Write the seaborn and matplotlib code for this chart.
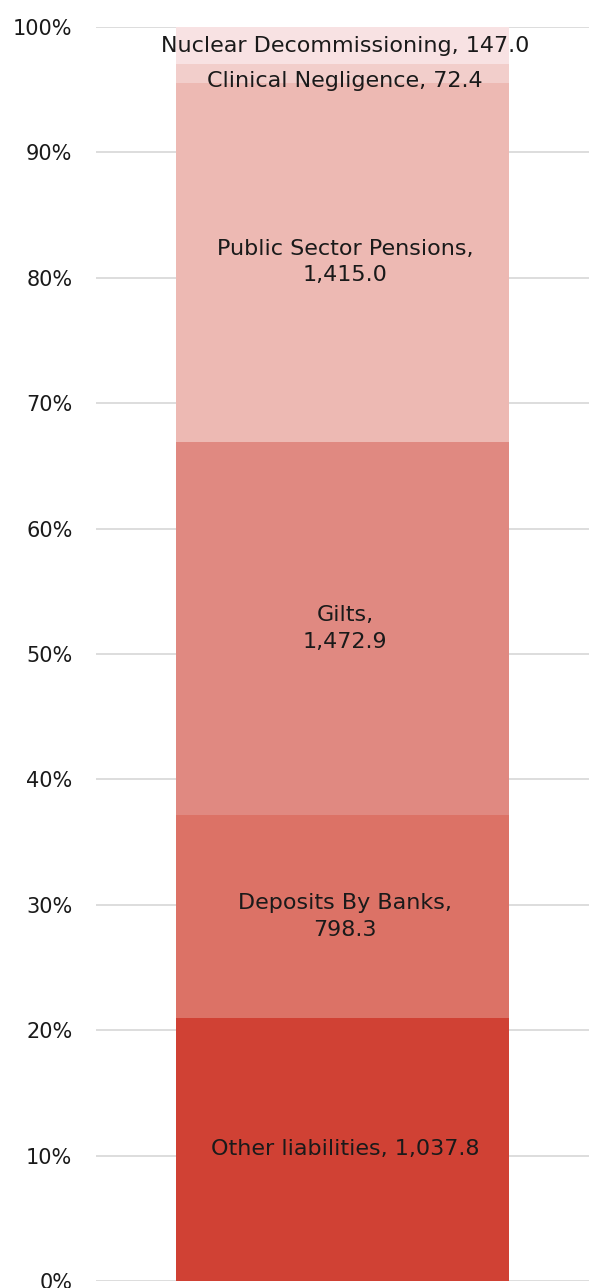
import matplotlib
matplotlib.use("Agg")
import matplotlib.pyplot as plt
import seaborn as sns
import numpy as np

# Liabilities breakdown (bottom to top), £bn
categories = ["Other liabilities", "Deposits By Banks", "Gilts",
              "Public Sector Pensions", "Clinical Negligence",
              "Nuclear Decommissioning"]
values = [1037.8, 798.3, 1472.9, 1415.0, 72.4, 147.0]
colors = ["#D04134", "#DC7266", "#E08981", "#EDB9B3", "#F2CECB", "#F8E2E3"]
label_breaks = [False, True, True, True, False, False]
tick_values = [0, 10, 20, 30, 40, 50, 60, 70, 80, 90, 100]
tick_labels = [f"{v}%" for v in tick_values]

sns.set_theme(style="white")
plt.rcParams["font.family"] = ["DejaVu Sans"]

fig = plt.figure(figsize=(5.89, 12.88), dpi=100)
ax = fig.add_axes([0.163, 0.0054, 0.837, 0.9736])

total = sum(values)
shares = np.array(values) / total * 100
tops = np.cumsum(shares)
bottoms = tops - shares

# stacked bar: draw cumulative heights from the top down so each covers the one below
for i in reversed(range(len(values))):
    sns.barplot(x=[""], y=[tops[i]], color=colors[i], width=0.674,
                saturation=1, linewidth=0, edgecolor="none", ax=ax, zorder=2)

label_nudge = [0, 0, 0, 0, -0.6, 0]
label_sizes = [16, 16, 16, 16, 16, 16]
for i, name in enumerate(categories):
    sep = ",\n" if label_breaks[i] else ", "
    txt = f"{name}{sep}{values[i]:,.1f}"
    ymid = bottoms[i] + shares[i] / 2 + label_nudge[i]
    ax.text(0.005, ymid, txt, ha="center", va="center", fontsize=label_sizes[i],
            color="#1a1a1a", linespacing=1.4, zorder=3)

ax.set_xlim(-0.5, 0.5)
ax.set_ylim(0, 100)
ax.set_yticks(tick_values)
ax.set_yticklabels(tick_labels)
ax.tick_params(axis="y", length=0, pad=17, labelsize=15, labelcolor="#1a1a1a")
ax.set_xticks([])
ax.set_xlabel("")
ax.set_ylabel("")
ax.yaxis.grid(True, color="#dddddd", linewidth=1.4, zorder=0)
ax.set_axisbelow(True)
for s in ax.spines.values():
    s.set_visible(False)

fig.savefig("out.png", dpi=100)
